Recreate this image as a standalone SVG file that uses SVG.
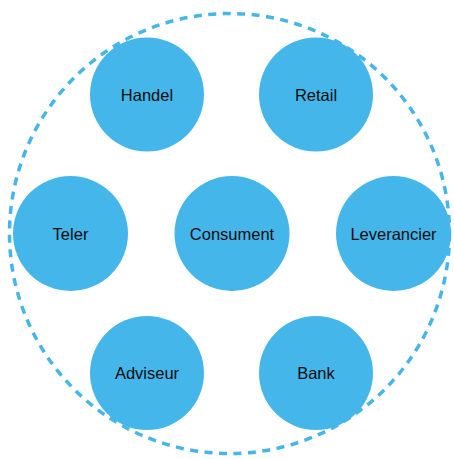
<svg xmlns="http://www.w3.org/2000/svg" width="454" height="459" viewBox="0 0 454 459">
<style>
.n{fill:#45B6EA}
.t{font-family:"Liberation Sans",Arial,sans-serif;font-size:16.5px;fill:#0d0d0d;text-anchor:middle}
.ring{fill:none;stroke:#45B6EA;stroke-width:3.5;stroke-dasharray:8 6.5}
</style>
<rect width="454" height="459" fill="#fff"/>
<g id="connectors"/>
<g id="boundary"><circle class="ring" cx="229.5" cy="233.5" r="220"/></g>
<g id="handel"><circle class="n" cx="147" cy="94.5" r="57"/><text class="t" x="147" y="100.5">Handel</text></g>
<g id="retail"><circle class="n" cx="316" cy="94.5" r="57"/><text class="t" x="316" y="100.5">Retail</text></g>
<g id="teler"><circle class="n" cx="70.5" cy="233.5" r="57.5"/><text class="t" x="70.5" y="239.5">Teler</text></g>
<g id="consument"><circle class="n" cx="232" cy="233.5" r="57.5"/><text class="t" x="232" y="239.5">Consument</text></g>
<g id="leverancier"><circle class="n" cx="393.5" cy="233.5" r="57.5"/><text class="t" x="393.5" y="239.5">Leverancier</text></g>
<g id="adviseur"><circle class="n" cx="147" cy="373" r="57"/><text class="t" x="147" y="379">Adviseur</text></g>
<g id="bank"><circle class="n" cx="316" cy="373" r="57"/><text class="t" x="316" y="379">Bank</text></g>
</svg>
